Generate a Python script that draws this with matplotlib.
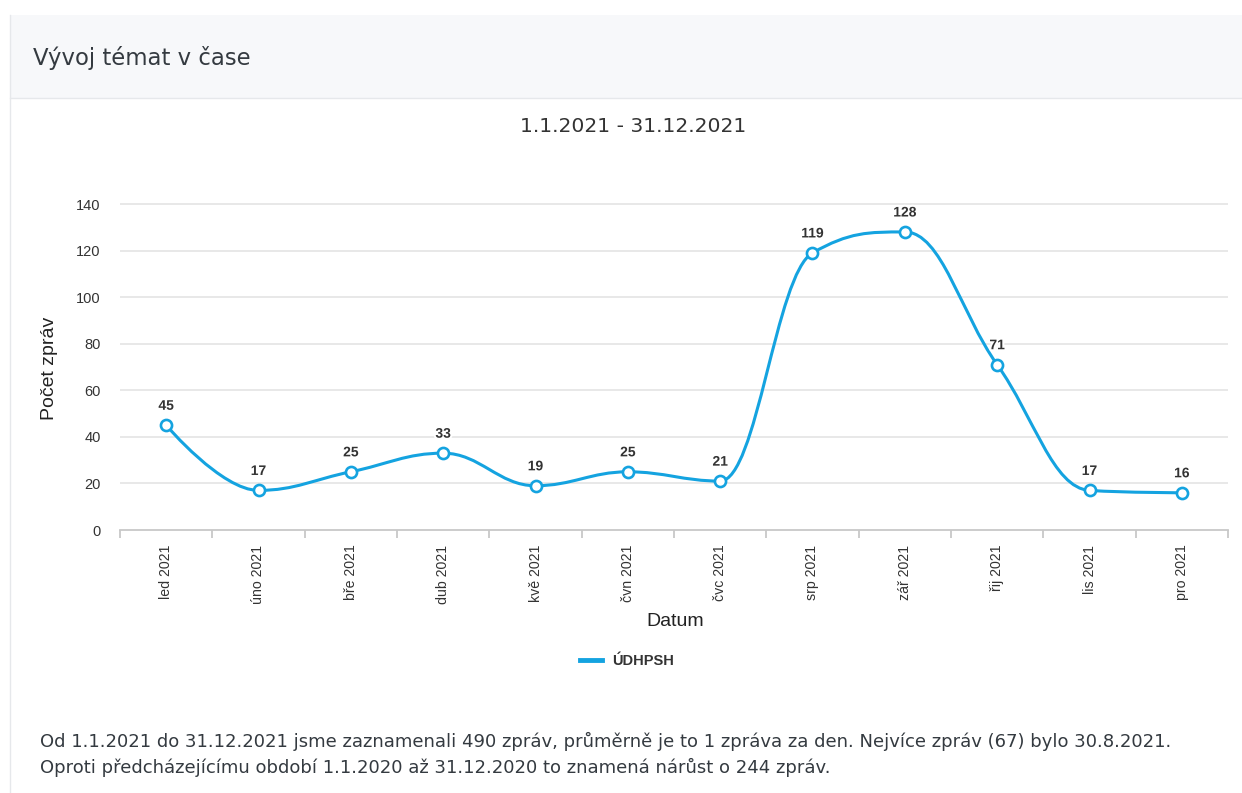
import matplotlib.pyplot as plt
import matplotlib.patheffects as pe
from matplotlib.path import Path
from matplotlib.patches import PathPatch, Rectangle
from matplotlib.lines import Line2D
import numpy as np

months = ['led 2021', 'úno 2021', 'bře 2021', 'dub 2021', 'kvě 2021', 'čvn 2021',
          'čvc 2021', 'srp 2021', 'zář 2021', 'řij 2021', 'lis 2021', 'pro 2021']
counts = [45, 17, 25, 33, 19, 25, 21, 119, 128, 71, 17, 16]
series_name = 'ÚDHPSH'
y_ticks = [0, 20, 40, 60, 80, 100, 120, 140]

BLUE = '#14a3e0'
W, H = 1242, 793


def spline_path(xs, ys, smoothing=1.5):
    # Highcharts-like spline: cubic bezier through every point
    denom = smoothing + 1
    n = len(xs)
    right = [None] * n
    verts = [(xs[0], ys[0])]
    codes = [Path.MOVETO]
    for i in range(1, n):
        px, py = xs[i], ys[i]
        lx, ly = xs[i - 1], ys[i - 1]
        lcx, lcy = px, py
        if i < n - 1:
            nx, ny = xs[i + 1], ys[i + 1]
            lcx = (smoothing * px + lx) / denom
            lcy = (smoothing * py + ly) / denom
            rcx = (smoothing * px + nx) / denom
            rcy = (smoothing * py + ny) / denom
            corr = 0
            if rcx != lcx:
                corr = (rcy - lcy) * (rcx - px) / (rcx - lcx) + py - rcy
            lcy += corr
            rcy += corr
            if lcy > ly and lcy > py:
                lcy = max(ly, py); rcy = 2 * py - lcy
            elif lcy < ly and lcy < py:
                lcy = min(ly, py); rcy = 2 * py - lcy
            if rcy > ny and rcy > py:
                rcy = max(ny, py); lcy = 2 * py - rcy
            elif rcy < ny and rcy < py:
                rcy = min(ny, py); lcy = 2 * py - rcy
            right[i] = (rcx, rcy)
        c1 = right[i - 1] if right[i - 1] is not None else (lx, ly)
        verts += [c1, (lcx, lcy), (px, py)]
        codes += [Path.CURVE4] * 3
    return Path(verts, codes)


fig = plt.figure(figsize=(W / 100, H / 100), dpi=100)
fig.patch.set_facecolor('white')

# card header and borders
fig.patches.append(Rectangle((10 / W, 1 - 98 / H), 1 - 10 / W, 83 / H,
                             transform=fig.transFigure, facecolor='#f7f8fa',
                             edgecolor='none', zorder=0))
fig.lines.append(Line2D([10 / W, 1], [1 - 98 / H, 1 - 98 / H], transform=fig.transFigure,
                        color='#e6e8eb', lw=1))
fig.lines.append(Line2D([10 / W, 10 / W], [0, 1 - 15 / H], transform=fig.transFigure,
                        color='#e6e8eb', lw=1))
fig.text(33 / W, 1 - 58 / H, 'Vývoj témat v čase', fontsize=16.4, color='#343a40',
         family='DejaVu Sans', va='center', ha='left')
fig.text(633 / W, 1 - 127 / H, '1.1.2021 - 31.12.2021', fontsize=14.6, color='#333333',
         family='DejaVu Sans', va='center', ha='center')

# plot area
ppu = (530 - 204) / 140.0
ytop = 146
ax = fig.add_axes([120 / W, 1 - 530 / H, 1108 / W, ytop * ppu / H])
ax.set_xlim(-0.5, len(months) - 0.5)
ax.set_ylim(0, ytop)
for s in ['top', 'right', 'left']:
    ax.spines[s].set_visible(False)
ax.spines['bottom'].set_color('#c8c8c8')
ax.spines['bottom'].set_linewidth(1.3)
ax.set_facecolor('none')

for t in y_ticks[1:]:
    ax.axhline(t, color='#e6e6e6', lw=1.3, zorder=1)

x = np.arange(len(months))
ax.set_xticks(x)
ax.set_xticklabels(months, rotation=90, fontsize=10.2, family='Liberation Sans', color='#333333')
ax.set_xticks(np.arange(-0.5, len(months)), minor=True)
ax.tick_params(axis='x', which='major', length=0, pad=10.5)
ax.tick_params(axis='x', which='minor', length=6, width=1.3, color='#c8c8c8')
ax.set_yticks(y_ticks)
ax.set_yticklabels([str(t) for t in y_ticks], fontsize=10.5, family='Liberation Sans',
                   color='#333333')
ax.tick_params(axis='y', length=0, pad=14)

path = spline_path(list(x.astype(float)), [float(c) for c in counts])
ax.add_patch(PathPatch(path, facecolor='none', edgecolor=BLUE, lw=2.2, zorder=3,
                       capstyle='round', joinstyle='round'))
ax.plot(x, counts, linestyle='none', marker='o', ms=8, mfc='white', mec=BLUE, mew=1.9,
        zorder=4, clip_on=False)

for xi, c in zip(x, counts):
    ax.annotate(str(c), (xi, c), xytext=(0, 14), textcoords='offset points',
                ha='center', va='center', fontsize=10, fontweight='bold',
                family='Liberation Sans', color='#333333', zorder=5,
                path_effects=[pe.withStroke(linewidth=3, foreground='white')])

fig.text(50 / W, 1 - 368 / H, 'Počet zpráv', rotation=90, fontsize=14, family='Liberation Sans',
         color='#222222', ha='center', va='center')
fig.text(675 / W, 1 - 622 / H, 'Datum', fontsize=14, family='Liberation Sans',
         color='#222222', ha='center', va='center')

# legend
fig.lines.append(Line2D([580 / W, 602 / W], [1 - 660 / H, 1 - 660 / H], transform=fig.transFigure,
                        color=BLUE, lw=3.5))
fig.text(612 / W, 1 - 661 / H, series_name, fontsize=10.5, fontweight='bold',
         family='Liberation Sans', color='#333333', ha='left', va='center')

# summary text
fig.text(40 / W, 1 - 741 / H,
         'Od 1.1.2021 do 31.12.2021 jsme zaznamenali 490 zpráv, průměrně je to 1 zpráva za den. '
         'Nejvíce zpráv (67) bylo 30.8.2021.',
         fontsize=13, family='DejaVu Sans', color='#343a40', ha='left', va='center')
fig.text(40 / W, 1 - 767 / H,
         'Oproti předcházejícímu období 1.1.2020 až 31.12.2020 to znamená nárůst o 244 zpráv.',
         fontsize=13, family='DejaVu Sans', color='#343a40', ha='left', va='center')

fig.savefig('out.png', dpi=100)
